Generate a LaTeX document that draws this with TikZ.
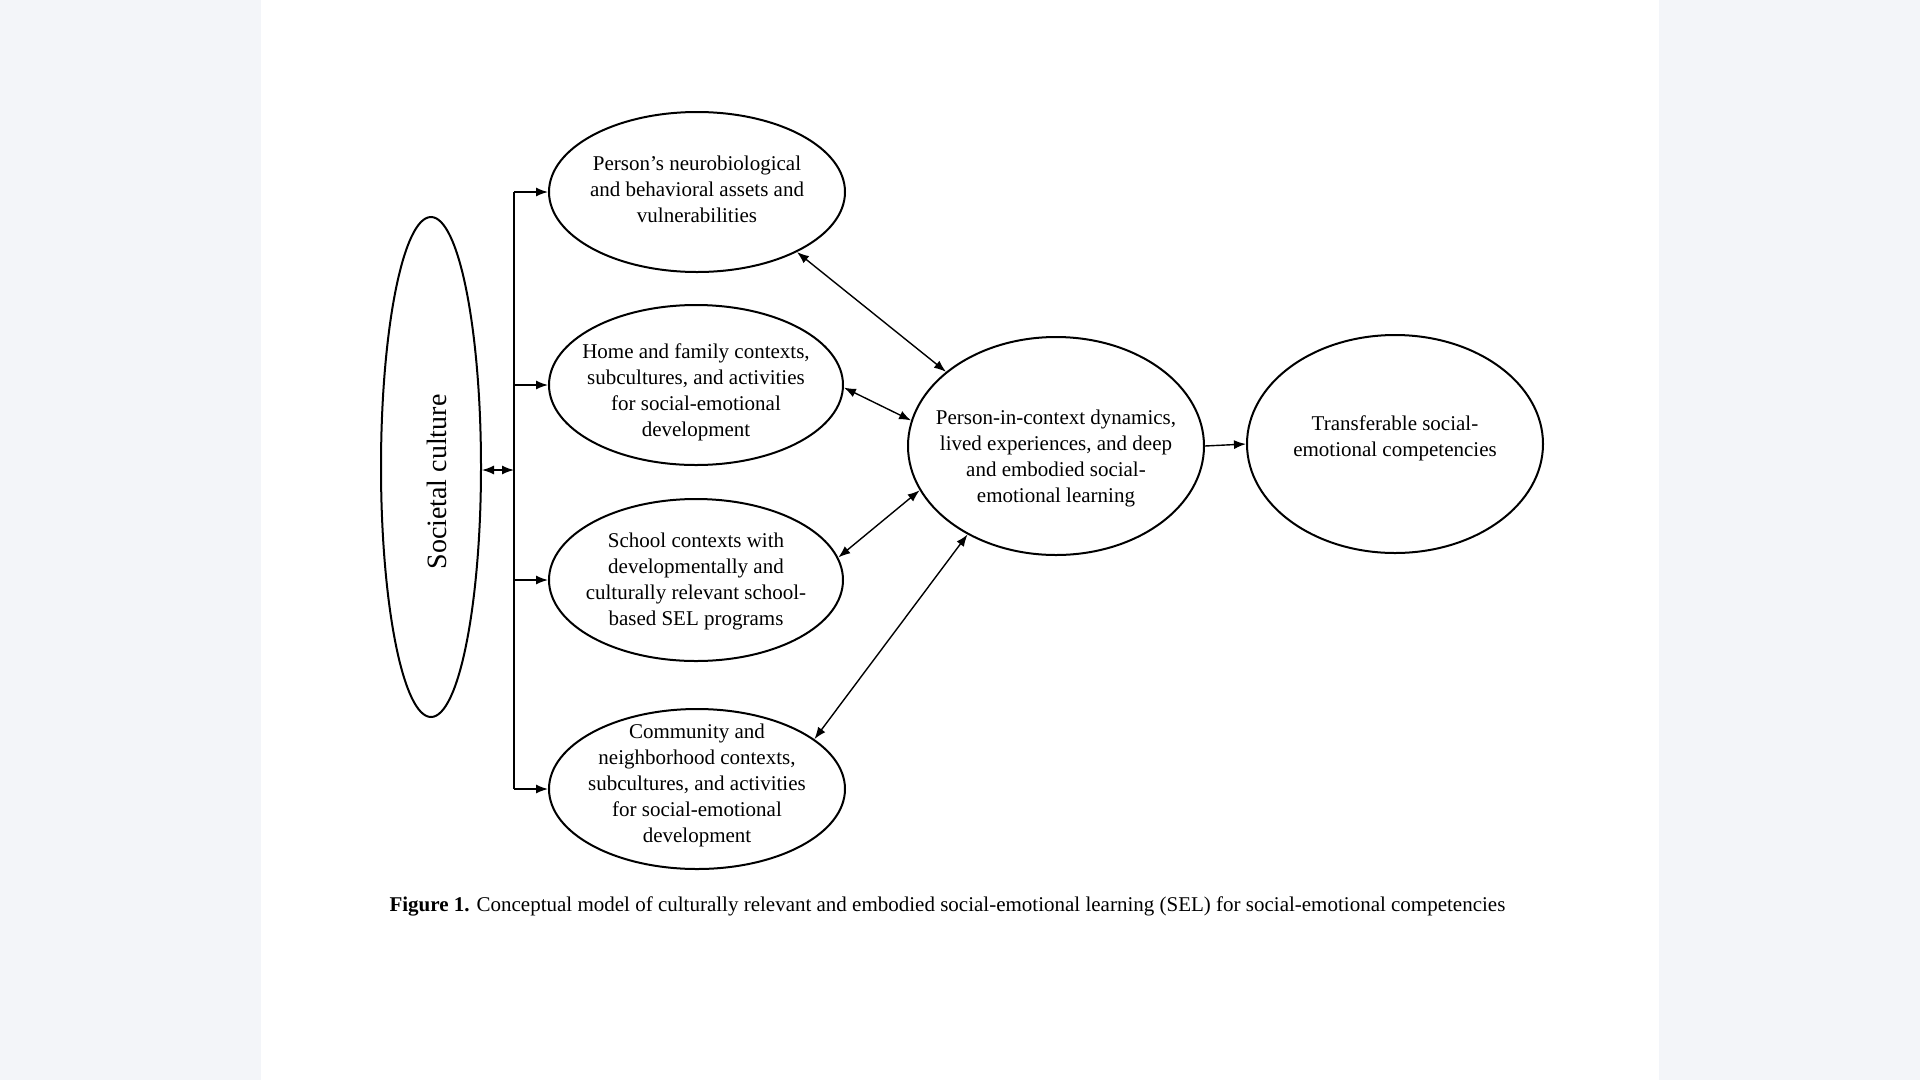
\documentclass[tikz,border=0pt]{standalone}
\usepackage{fontspec}
\setmainfont{Liberation Serif}
\usetikzlibrary{shapes.geometric,arrows.meta}
\definecolor{pagegray}{HTML}{F3F5F9}
\newcommand{\elltext}[2]{\smash{\makebox[0pt]{\raisebox{#1}{\begin{tabular}{@{}c@{}}#2\end{tabular}}}}}
\begin{document}
\begin{tikzpicture}[x=1pt,y=-1pt,
  ell/.style={draw=black,line width=2pt,ellipse,inner sep=0pt,
    font=\fontsize{21}{26}\selectfont},
  conn/.style={draw=black,line width=1.4pt},
  arr/.style={conn,-{Latex[length=12pt,width=9pt]}},
  darr/.style={conn,{Latex[length=12pt,width=9pt]}-{Latex[length=12pt,width=9pt]}}]
\useasboundingbox (0,0) rectangle (1920,1080);
\fill[pagegray] (0,0) rectangle (1920,1080);
\fill[white] (261,0) rectangle (1659,1080);

\node[ell,minimum width=100pt,minimum height=500pt] (soc) at (431,467) {};
\node[rotate=90,font=\fontsize{28}{32}\selectfont] (soct) at (437,482) {Societal culture};

\node[ell,minimum width=296pt,minimum height=160pt] (e1) at (697,192)
  {\elltext{-4.5pt}{Person’s neurobiological\\and behavioral assets and\\vulnerabilities}};
\node[ell,minimum width=294pt,minimum height=160pt] (e2) at (696,385)
  {\elltext{-12pt}{Home and family contexts,\\subcultures, and activities\\for social-emotional\\development}};
\node[ell,minimum width=294pt,minimum height=162pt] (e3) at (696,580)
  {\elltext{-6pt}{School contexts with\\developmentally and\\culturally relevant school-\\based SEL programs}};
\node[ell,minimum width=296pt,minimum height=160pt] (e4) at (697,789)
  {\elltext{-1.5pt}{Community and\\neighborhood contexts,\\subcultures, and activities\\for social-emotional\\development}};
\node[ell,minimum width=296pt,minimum height=218pt] (c) at (1056,446)
  {\elltext{-17pt}{Person-in-context dynamics,\\lived experiences, and deep\\and embodied social-\\emotional learning}};
\node[ell,minimum width=296pt,minimum height=218pt] (r) at (1395,444)
  {\elltext{1pt}{Transferable social-\\emotional competencies}};

\coordinate (sp) at (514,470);
\draw[conn] (sp |- e1.west) -- (sp |- e4.west);
\draw[arr] (sp |- e1.west) -- (e1.west);
\draw[arr] (sp |- e2.west) -- (e2.west);
\draw[arr] (sp |- e3.west) -- (e3.west);
\draw[arr] (sp |- e4.west) -- (e4.west);
\draw[darr] (soc.east |- sp) -- (sp);

\draw[darr] (e1.-31) -- (c.146);
\draw[darr] (e2.-1) -- (c.170);
\draw[darr] (e3.9) -- (c.198);
\draw[darr] (e4.23) -- (c.225);
\draw[arr] (c.east) -- (r.west);

\node[anchor=west,font=\fontsize{21}{25}\selectfont] (cap) at (386,906)
  {\textbf{Figure 1.} Conceptual model of culturally relevant and embodied social-emotional learning (SEL) for social-emotional competencies};
\end{tikzpicture}
\end{document}
